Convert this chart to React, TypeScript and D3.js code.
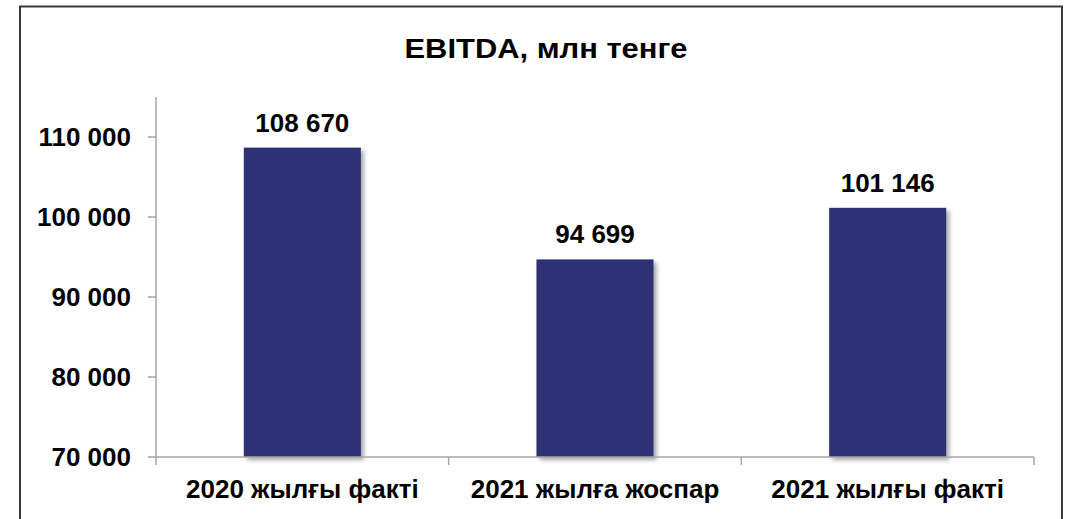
import React from "react";
import * as d3 from "d3";

const categories = ["2020 жылғы факті", "2021 жылға жоспар", "2021 жылғы факті"];
const values = [108670, 94699, 101146];
const yTicks = [70000, 80000, 90000, 100000, 110000];
const title = "EBITDA, млн тенге";

const W = 1066;
const H = 519;
const M = { left: 156, right: 1034, top: 97, bottom: 457 };

const fmt = (v: number) => d3.format(",")(v).replace(/,/g, " ");

export default function App() {
  const x = d3.scaleBand<string>().domain(categories).range([M.left, M.right]).padding(0);
  const y = d3.scaleLinear().domain([70000, 115000]).range([M.bottom, M.top]);
  const bw = x.bandwidth() * 0.4;
  const font = "'Liberation Sans', Arial, sans-serif";
  const axisColor = "#a6a6a6";
  return (
    <svg width={W} height={H} style={{ position: "absolute", left: 0, top: 0 }} fontFamily={font}>
      <defs>
        <filter id="sh" x="-10%" y="-10%" width="130%" height="130%">
          <feDropShadow dx="3" dy="3" stdDeviation="2" floodColor="#000" floodOpacity="0.35" />
        </filter>
      </defs>
      <rect x={0} y={0} width={W} height={H} fill="#fff" />
      <rect x={20} y={6.5} width={1042} height={H + 10} fill="#fff" stroke="#3a3a3a" strokeWidth={2} />
      <text x={546} y={58} textAnchor="middle" fontSize={27} fontWeight="bold" fill="#000" textLength={283} lengthAdjust="spacingAndGlyphs">{title}</text>
      {/* y axis */}
      <line x1={M.left} x2={M.left} y1={M.top} y2={M.bottom} stroke={axisColor} strokeWidth={1.5} />
      {yTicks.map((t) => (
        <g key={t}>
          <line x1={M.left - 8} x2={M.left} y1={y(t)} y2={y(t)} stroke={axisColor} strokeWidth={1.5} />
          <text x={131} y={y(t) + 9} textAnchor="end" fontSize={26} fontWeight="bold" fill="#000">{fmt(t)}</text>
        </g>
      ))}
      {/* bars */}
      {categories.map((c, i) => {
        const cx = (x(c) as number) + x.bandwidth() / 2;
        return (
          <g key={c}>
            <rect x={cx - bw / 2} y={y(values[i])} width={bw} height={M.bottom - y(values[i])} fill="#2e3275" filter="url(#sh)" />
            <text x={cx} y={y(values[i]) - 16} textAnchor="middle" fontSize={26} fontWeight="bold" fill="#000">{fmt(values[i])}</text>
            <text x={cx} y={498} textAnchor="middle" fontSize={26} fontWeight="bold" fill="#000">{c}</text>
          </g>
        );
      })}
      {/* x axis */}
      <line x1={M.left} x2={M.right} y1={M.bottom} y2={M.bottom} stroke={axisColor} strokeWidth={1.5} />
      {[...categories.map((c) => x(c) as number), M.right].map((p, i) => (
        <line key={i} x1={p} x2={p} y1={M.bottom} y2={M.bottom + 8} stroke={axisColor} strokeWidth={1.5} />
      ))}
    </svg>
  );
}
